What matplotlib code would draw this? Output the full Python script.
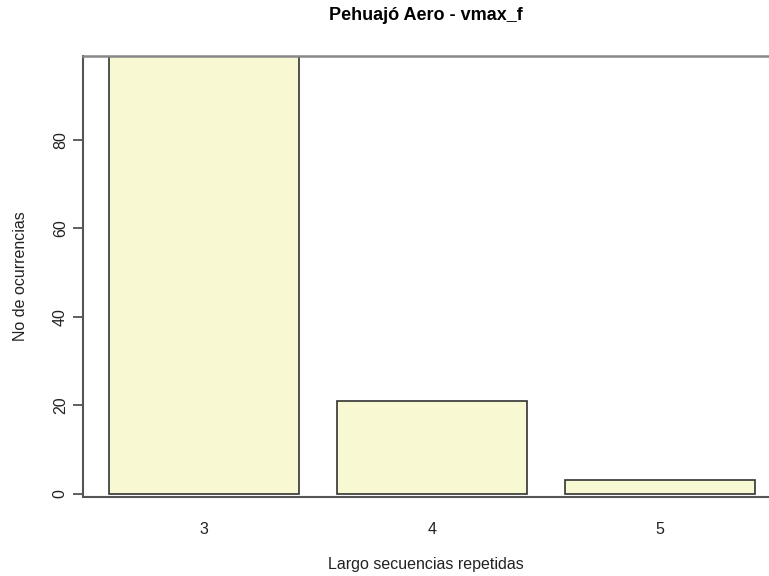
import matplotlib.pyplot as plt
import numpy as np

plt.rcParams['font.family'] = ['Liberation Sans', 'DejaVu Sans']

# Data
lengths = ["3", "4", "5"]
counts = [99, 21, 3]

# R barplot style positions: width 1, space 0.2
x = 0.2 + np.arange(len(lengths)) * 1.2 + 0.5

fig = plt.figure(figsize=(7.69, 5.76), dpi=100)
ax = fig.add_axes([0.108, 0.137, 0.892, 0.766])

ax.bar(x, counts, width=1.0, color="#f8f8d2", edgecolor="#333333", linewidth=1.2)

ax.set_xlim(0.063, 3.674)
ax.set_ylim(-0.8, 99)

ax.set_xticks(x)
ax.set_xticklabels(lengths, fontsize=11.5, color="#222222")
ax.tick_params(axis="x", length=0, pad=18)

ax.set_yticks([0, 20, 40, 60, 80])
ax.set_yticklabels(["0", "20", "40", "60", "80"], rotation=90, va="center",
                   fontsize=11.5, color="#222222")
ax.tick_params(axis="y", length=7, width=1.2, color="#444444", pad=4)

ax.spines["right"].set_visible(False)
ax.spines["left"].set_color("#555555")
ax.spines["left"].set_linewidth(1.5)
ax.spines["bottom"].set_color("#555555")
ax.spines["bottom"].set_linewidth(1.5)
ax.spines["top"].set_color("#888888")
ax.spines["top"].set_linewidth(1.8)

ax.set_xlabel("Largo secuencias repetidas", fontsize=11.5, labelpad=14, color="#222222")
ax.set_ylabel("No de ocurrencias", fontsize=11.5, labelpad=18, color="#222222")
ax.set_title("Pehuajó Aero - vmax_f", fontsize=13, fontweight="bold", pad=26)

fig.savefig("out.png", dpi=100)
